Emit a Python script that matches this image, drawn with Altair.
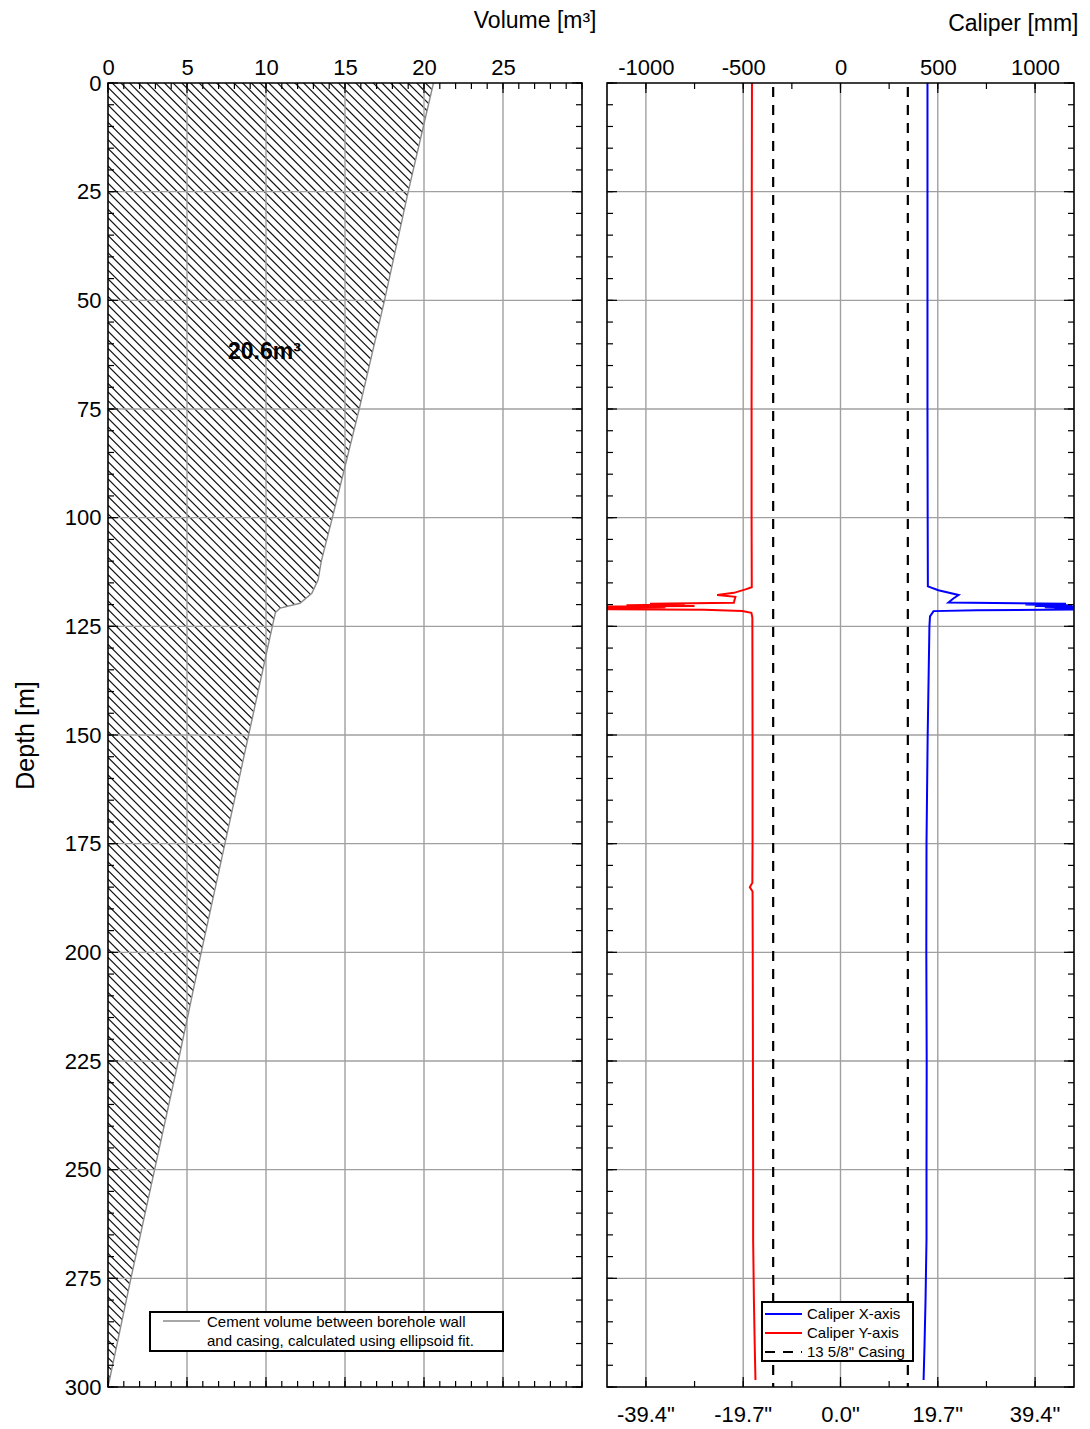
import altair as alt
import pandas as pd

# ---------------- data ----------------
# cement volume boundary (cumulative volume vs depth)
vol_depth = [0, 25, 50, 75, 100, 110, 114.3, 117.4, 119.7, 120.8, 121.8, 125, 150, 175, 200, 225, 250, 275, 300]
vol_value = [20.6, 19.0, 17.5, 15.9, 14.2, 13.5, 13.3, 12.9, 12.15, 10.9, 10.6, 10.4, 8.9, 7.4, 5.9, 4.45, 2.95, 1.45, 0]

# caliper X-axis (blue)
calx_depth = [0, 25, 50, 75, 100, 115.8, 116.7, 117.8, 118.6, 119.5, 119.8, 120.0, 120.15, 120.3, 120.45,
              120.6, 120.8, 120.95, 121.1, 121.3, 121.5, 122.7, 125, 150, 175, 200, 225, 250, 266, 280, 290, 298.4]
calx_value = [447, 447, 447, 447, 448, 449, 503, 607, 580, 555, 1159, 950, 1190, 1000, 1210,
              1050, 1210, 1100, 1210, 700, 478, 460, 457, 448, 442, 441, 443, 442, 442, 437, 432, 427]

# caliper Y-axis (red)
caly_depth = [0, 25, 50, 75, 100, 116.0, 116.5, 117.3, 117.8, 118.2, 119.0, 119.6, 119.8, 120.0, 120.15,
              120.3, 120.45, 120.6, 120.75, 120.9, 121.05, 121.2, 121.5, 121.9, 123, 150, 175, 184, 185, 186,
              200, 225, 250, 266, 280, 290, 298.4]
caly_value = [-455, -456, -456, -457, -457, -456, -488, -548, -634, -540, -545, -548, -979, -800, -1100,
              -750, -1210, -900, -1210, -1000, -1210, -700, -505, -458, -453, -452, -452, -453, -466, -452,
              -451, -450, -449, -449, -445, -441, -437]

casing_mm = [-346, 346]

series_names = ["Caliper X-axis", "Caliper Y-axis", "13 5/8\" Casing"]
series_colors = ["#0000ff", "#ff0000", "black"]

vol_ticks_major = [0, 5, 10, 15, 20, 25]
vol_grid = [5, 10, 15, 20, 25]
vol_minor = list(range(0, 31, 1))
depth_major = list(range(0, 301, 25))
depth_grid = list(range(25, 300, 25))
depth_minor = list(range(0, 301, 5))
cal_major = [-1000, -500, 0, 500, 1000]
cal_minor = list(range(-1000, 1001, 250))

left_legend_lines = ["Cement volume between borehole wall", "and casing, calculated using ellipsoid fit."]
volume_note = "20.6m³"

FONT = "Liberation Sans"
W1, W2, H = 474, 467, 1304
GRID = "#a0a0a0"

xs_v = alt.Scale(domain=[0, 30], nice=False, zero=False)
xs_c = alt.Scale(domain=[-1200, 1200], nice=False, zero=False)
ys = alt.Scale(domain=[0, 300], reverse=True, nice=False, zero=False)

# one shared axis definition per scale, reused in every layer so they merge cleanly
ax_v = alt.Axis(
    orient="top", values=vol_ticks_major, labelFontSize=22, labelPadding=4, labelFlush=False,
    ticks=False, tickSize=0, domain=False, grid=False,
    title="Volume [m³]", titleFontSize=23, titleFontWeight="normal",
    titleX=W1 + 14, titleY=-62.5, titleAlign="right", titleBaseline="middle")
ay_l = alt.Axis(
    orient="left", values=depth_major, labelFontSize=22, labelPadding=7,
    ticks=False, tickSize=0, domain=False, grid=False,
    title="Depth [m]", titleFontSize=25, titleFontWeight="normal", titlePadding=26)
ax_c = alt.Axis(
    orient="top", values=cal_major, labelFontSize=22, labelPadding=4, labelFlush=False,
    labelExpr="(datum.value < 0 ? '-' : '') + abs(datum.value)",
    ticks=False, tickSize=0, domain=False, grid=False,
    title="Caliper [mm]", titleFontSize=23, titleFontWeight="normal",
    titleX=W2 + 4, titleY=-59.5, titleAlign="right", titleBaseline="middle")

one = pd.DataFrame({"a": [0]})


def edge_ticks(values, kind, xscale, xaxis, yaxis, W, length):
    df = pd.DataFrame({"v": values})
    base = alt.Chart(df).mark_rule(color="black", strokeWidth=1.2)
    if kind == "x":
        e = alt.X("v:Q", scale=xscale, axis=xaxis)
        return [base.encode(x=e, y=alt.value(0), y2=alt.value(length)),
                base.encode(x=e, y=alt.value(H), y2=alt.value(H - length))]
    e = alt.Y("v:Q", scale=ys, axis=yaxis)
    return [base.encode(y=e, x=alt.value(0), x2=alt.value(length)),
            base.encode(y=e, x=alt.value(W), x2=alt.value(W - length))]


def frame(W):
    return alt.Chart(one).mark_rect(fillOpacity=0, stroke="black", strokeWidth=1.6).encode(
        x=alt.value(0), x2=alt.value(W), y=alt.value(0), y2=alt.value(H))


# ---------------- left panel ----------------
vol_df = pd.DataFrame({"depth": vol_depth, "vol": vol_value})

step = 8.7
n_hatch = int((W1 + H) / step) + 2
hatch = alt.Chart(alt.sequence(0, n_hatch, as_="k")).transform_calculate(
    c=f"-{W1} + datum.k * {step}"
).transform_calculate(
    v0="0", v1="30", d0=f"datum.c * 300 / {H}", d1=f"(datum.c + {W1}) * 300 / {H}"
).mark_rule(clip=True, color="#111111", strokeWidth=1.2).encode(
    x=alt.X("v0:Q", scale=xs_v, axis=ax_v), x2="v1:Q",
    y=alt.Y("d0:Q", scale=ys, axis=ay_l), y2="d1:Q")

cover = alt.Chart(vol_df).mark_area(orient="horizontal", color="white", opacity=1).encode(
    y=alt.Y("depth:Q", scale=ys, axis=ay_l),
    x=alt.X("vol:Q", scale=xs_v, axis=ax_v),
    x2=alt.datum(30))

vgrid_l = alt.Chart(pd.DataFrame({"v": vol_grid})).mark_rule(color=GRID, strokeWidth=1.4).encode(
    x=alt.X("v:Q", scale=xs_v, axis=ax_v))
hgrid_l = alt.Chart(pd.DataFrame({"d": depth_grid})).mark_rule(color=GRID, strokeWidth=1.4).encode(
    y=alt.Y("d:Q", scale=ys, axis=ay_l))

boundary = alt.Chart(vol_df).mark_line(color="#8a8a8a", strokeWidth=1.4).encode(
    x=alt.X("vol:Q", scale=xs_v, axis=ax_v),
    y=alt.Y("depth:Q", scale=ys, axis=ay_l),
    order="depth:Q")

note = alt.Chart(one).mark_text(font=FONT, fontSize=23, fontWeight="bold", color="black").encode(
    x=alt.X(datum=9.9, scale=xs_v, axis=ax_v), y=alt.Y(datum=62, scale=ys, axis=ay_l),
    text=alt.value(volume_note))

leg_l = [alt.Chart(one).mark_rect(fill="white", stroke="black", strokeWidth=2).encode(
    x=alt.value(42), x2=alt.value(395), y=alt.value(1229), y2=alt.value(1268)),
    alt.Chart(one).mark_rule(color="#8a8a8a", strokeWidth=1.4).encode(
    x=alt.value(55), x2=alt.value(92), y=alt.value(1238))]
for i, line in enumerate(left_legend_lines):
    leg_l.append(alt.Chart(one).mark_text(font=FONT, fontSize=15, align="left", baseline="middle",
                                          color="black").encode(
        x=alt.value(99), y=alt.value(1239 + 19 * i), text=alt.value(line)))

ticks_l = (edge_ticks(vol_minor, "x", xs_v, ax_v, ay_l, W1, 6)
           + edge_ticks(vol_ticks_major, "x", xs_v, ax_v, ay_l, W1, 10)
           + edge_ticks(depth_minor, "y", xs_v, ax_v, ay_l, W1, 6)
           + edge_ticks(depth_major, "y", xs_v, ax_v, ay_l, W1, 10))

left = alt.layer(hatch, cover, vgrid_l, hgrid_l, boundary, note, *leg_l, *ticks_l, frame(W1)).properties(
    width=W1, height=H)

# ---------------- right panel ----------------
cal_df = pd.concat([
    pd.DataFrame({"depth": calx_depth, "mm": calx_value, "series": series_names[0]}),
    pd.DataFrame({"depth": caly_depth, "mm": caly_value, "series": series_names[1]}),
])

vgrid_r = alt.Chart(pd.DataFrame({"v": cal_major})).mark_rule(color=GRID, strokeWidth=1.4).encode(
    x=alt.X("v:Q", scale=xs_c, axis=ax_c))
hgrid_r = alt.Chart(pd.DataFrame({"d": depth_grid})).mark_rule(color=GRID, strokeWidth=1.4).encode(
    y=alt.Y("d:Q", scale=ys, axis=None))

casing = alt.Chart(pd.DataFrame({"v": casing_mm})).mark_rule(
    color="black", strokeWidth=2.2, strokeDash=[10, 8], strokeDashOffset=-4).encode(
    x=alt.X("v:Q", scale=xs_c, axis=ax_c))

calipers = alt.Chart(cal_df).mark_line(strokeWidth=2, clip=True).encode(
    x=alt.X("mm:Q", scale=xs_c, axis=ax_c),
    y=alt.Y("depth:Q", scale=ys, axis=None),
    color=alt.Color("series:N", scale=alt.Scale(domain=series_names[:2], range=series_colors[:2]),
                    legend=None),
    order="depth:Q")

inch_labels = alt.Chart(pd.DataFrame({"v": cal_major})).transform_calculate(
    lab="(datum.v < 0 ? '-' : '') + format(abs(datum.v) / 25.4, '.1f') + '\"'"
).mark_text(font=FONT, fontSize=22, baseline="middle", color="black").encode(
    x=alt.X("v:Q", scale=xs_c, axis=ax_c), y=alt.value(H + 28), text="lab:N")

leg_r = [alt.Chart(one).mark_rect(fill="white", stroke="black", strokeWidth=2).encode(
    x=alt.value(155), x2=alt.value(306), y=alt.value(1219), y2=alt.value(1278))]
for i, (name, col) in enumerate(zip(series_names, series_colors)):
    yy = 1231 + 19 * i
    if i == 2:
        sample = alt.Chart(one).mark_rule(color=col, strokeWidth=2.2, strokeDash=[10, 8]).encode(
            x=alt.value(158), x2=alt.value(195), y=alt.value(yy))
    else:
        sample = alt.Chart(one).mark_rule(color=col, strokeWidth=2).encode(
            x=alt.value(158), x2=alt.value(195), y=alt.value(yy))
    leg_r.append(sample)
    leg_r.append(alt.Chart(one).mark_text(font=FONT, fontSize=15, align="left", baseline="middle",
                                          color="black").encode(
        x=alt.value(200), y=alt.value(yy), text=alt.value(name)))

ticks_r = (edge_ticks(cal_minor, "x", xs_c, ax_c, None, W2, 6)
           + edge_ticks(cal_major, "x", xs_c, ax_c, None, W2, 10)
           + edge_ticks(depth_minor, "y", xs_c, ax_c, None, W2, 6)
           + edge_ticks(depth_major, "y", xs_c, ax_c, None, W2, 10))

right = alt.layer(vgrid_r, hgrid_r, casing, calipers, inch_labels, *leg_r, *ticks_r, frame(W2)).properties(
    width=W2, height=H)

chart = alt.hconcat(left, right, spacing=10).properties(
    padding={"left": 5, "right": 0, "top": 1, "bottom": 0}
).configure_view(stroke=None).configure_axis(
    labelFont=FONT, titleFont=FONT, labelColor="black", titleColor="black")

chart.save("out.html", embed_options={"renderer": "svg", "actions": False})
